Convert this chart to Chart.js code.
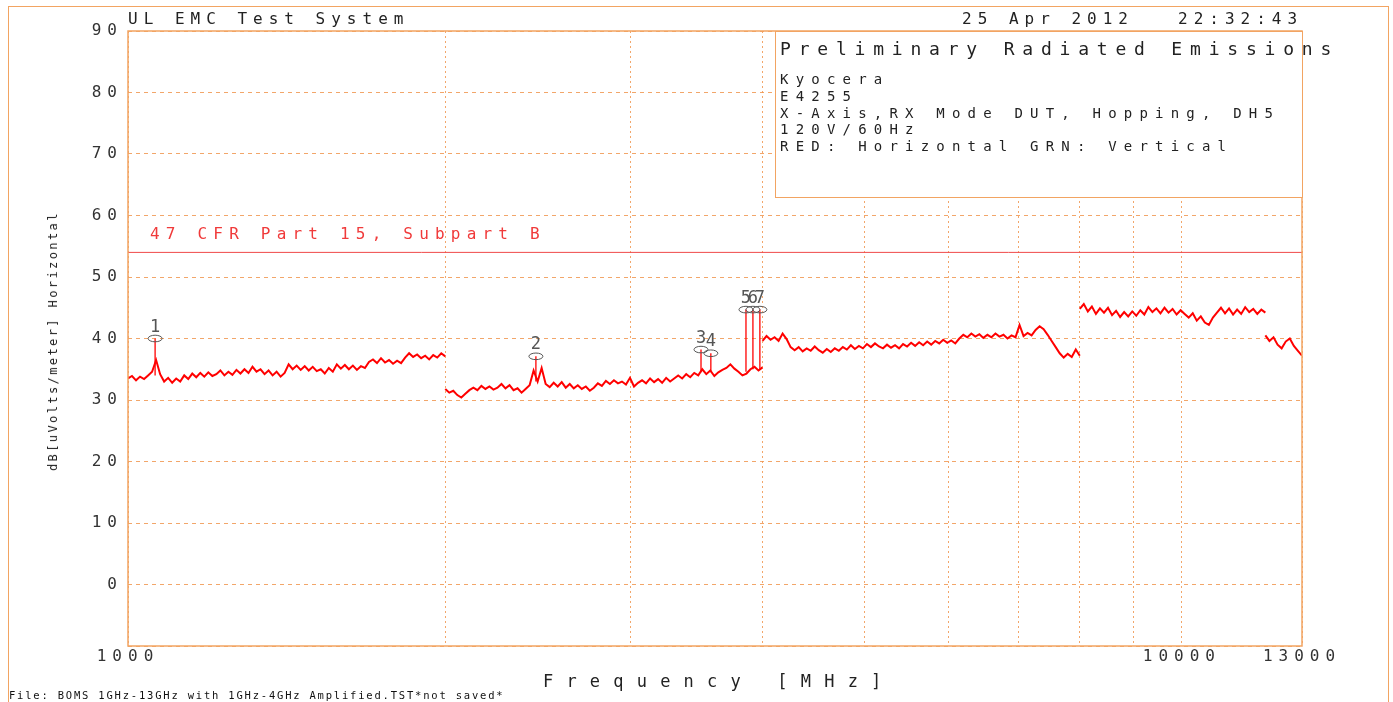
<!DOCTYPE html>
<html>
<head>
<meta charset="utf-8">
<script src="https://cdn.jsdelivr.net/npm/chart.js@4/dist/chart.umd.min.js"></script>
<style>
  body { margin: 0; background: #fff; }
  #wrap { position: relative; width: 1393px; height: 702px; overflow: hidden; }
  canvas { position: absolute; left: 0; top: 0; }
  .t { position: absolute; font-family: "DejaVu Sans Mono", monospace; white-space: pre; line-height: 1; color: #222; }
  #frame { position: absolute; left: 8px; top: 6px; width: 1381px; height: 720px; border: 1px solid #f2a462; box-sizing: border-box; }
  #box { position: absolute; left: 775px; top: 31px; width: 528px; height: 167px; background: #fff; border: 1px solid #f2a462; box-sizing: border-box; }
</style>
</head>
<body>
<div id="wrap">
  <div id="frame"></div>
  <canvas id="emiChart" width="1393" height="702"></canvas>
  <div id="box"></div>

  <div class="t" style="left:128px; top:11px; font-size:16px; letter-spacing:6px;">UL EMC Test System</div>
  <div class="t" style="left:962px; top:11px; font-size:16px; letter-spacing:6px;">25 Apr 2012</div>
  <div class="t" style="left:1178px; top:11px; font-size:16px; letter-spacing:6px;">22:32:43</div>

  <div class="t" style="left:780px; top:40px; font-size:18px; letter-spacing:7.8px;">Preliminary Radiated Emissions</div>
  <div class="t" style="left:780px; top:72px; font-size:14px; letter-spacing:7.2px;">Kyocera</div>
  <div class="t" style="left:780px; top:89px; font-size:14px; letter-spacing:7.2px;">E4255</div>
  <div class="t" style="left:780px; top:106px; font-size:14px; letter-spacing:7.2px;">X-Axis,RX Mode DUT, Hopping, DH5</div>
  <div class="t" style="left:780px; top:122px; font-size:14px; letter-spacing:7.2px;">120V/60Hz</div>
  <div class="t" style="left:780px; top:139px; font-size:14px; letter-spacing:7.2px;">RED: Horizontal GRN: Vertical</div>

  <div class="t" style="left:53px; top:341px; font-size:12px; letter-spacing:2.4px; transform:translate(-50%,-50%) rotate(-90deg);">dB[uVolts/meter] Horizontal</div>
  <div class="t" style="left:543px; top:673px; font-size:17px; letter-spacing:13.2px;">Frequency [MHz]</div>
  <div class="t" style="left:9px; top:690px; font-size:10.5px; letter-spacing:1.8px; color:#111;">File: BOMS 1GHz-13GHz with 1GHz-4GHz Amplified.TST*not saved*</div>
</div>

<script>
// sweep segments (MHz)
const segStart = [1000, 2000, 4000, 8000, 12000];
const segStop  = [2000, 4000, 8000, 12000, 13000];

const seg1Levels = [33.5,33.9,33.2,33.8,33.4,34.0,34.6,36.5,34.2,33.0,33.6,32.8,33.5,33.0,34.0,33.4,34.3,33.7,34.4,33.8,
  34.5,33.9,34.2,34.8,34.0,34.6,34.1,34.9,34.3,35.0,34.4,35.4,34.6,35.0,34.2,34.8,34.0,34.6,33.8,34.4,
  35.8,35.0,35.6,34.9,35.5,34.8,35.4,34.7,35.0,34.3,35.2,34.6,35.8,35.1,35.7,35.0,35.6,34.9,35.5,35.2,
  36.2,36.6,36.0,36.8,36.1,36.5,35.9,36.4,36.0,36.9,37.6,37.0,37.4,36.8,37.2,36.6,37.3,36.9,37.6,37.1];
const seg2Levels = [31.8,31.2,31.5,30.8,30.4,31.0,31.6,32.0,31.6,32.3,31.8,32.2,31.7,32.0,32.6,31.9,32.4,31.6,31.9,31.2,
  31.8,32.4,34.8,33.0,35.2,32.6,32.1,32.8,32.2,32.9,32.0,32.6,31.9,32.4,31.8,32.2,31.5,32.0,32.7,32.3,
  33.1,32.6,33.2,32.7,33.0,32.5,33.6,32.2,32.8,33.2,32.7,33.5,32.9,33.4,32.8,33.6,33.0,33.5,34.0,33.5,
  34.2,33.7,34.4,34.0,35.0,34.2,34.8,33.9,34.5,34.9,35.2,35.8,35.1,34.6,34.0,34.3,35.0,35.4,34.8,35.3];
const seg3Levels = [39.6,40.4,39.8,40.2,39.6,40.8,39.9,38.6,38.1,38.6,37.9,38.4,38.0,38.7,38.1,37.7,38.3,37.8,38.4,38.0,
  38.6,38.2,38.9,38.3,38.8,38.4,39.1,38.6,39.2,38.7,38.4,39.0,38.5,38.9,38.4,39.1,38.7,39.3,38.8,39.4,
  38.9,39.5,39.0,39.6,39.2,39.8,39.3,39.7,39.2,40.0,40.6,40.2,40.8,40.3,40.7,40.1,40.6,40.2,40.8,40.3,
  40.6,40.0,40.5,40.2,42.2,40.4,40.9,40.5,41.4,42.0,41.5,40.6,39.6,38.6,37.6,36.9,37.5,37.0,38.2,37.2];
const seg4Levels = [44.8,45.6,44.4,45.2,44.0,44.9,44.2,45.0,43.8,44.5,43.5,44.3,43.6,44.4,43.7,44.6,43.9,45.1,44.3,44.9,
  44.1,45.0,44.2,44.8,43.9,44.6,44.0,43.4,44.1,42.9,43.6,42.6,42.2,43.4,44.2,45.0,44.1,44.9,43.9,44.7,
  44.0,45.1,44.3,44.8,44.0,44.7,44.2];
const seg5Levels = [40.5,39.6,40.2,39.0,38.4,39.5,40.0,38.8,38.0,37.2];
const segLevels = [seg1Levels, seg2Levels, seg3Levels, seg4Levels, seg5Levels];

// peak markers
const markerLabel = ['1', '2', '3', '4', '5', '6', '7'];
const markerFreq  = [1061, 2438, 3497, 3573, 3858, 3917, 3977];
const markerLevel = [40.0, 37.1, 38.2, 37.6, 44.7, 44.7, 44.7];
const markerBase  = [34.0, 33.0, 34.5, 34.5, 34.6, 35.0, 35.0];

// limit line
const limitName  = '47 CFR Part 15, Subpart B';
const limitFreq  = [1000, 13000];
const limitLevel = [54, 54];

// axes
const xGridValues = [1000, 2000, 3000, 4000, 5000, 6000, 7000, 8000, 9000, 10000, 13000];
const xTickLabels = [1000, 10000, 13000];
const yTickLabels = [0, 10, 20, 30, 40, 50, 60, 70, 80, 90];

const TRACE = '#ff0000';
const ORANGE = '#f2a462';
const GRID = 'rgba(240, 150, 80, 0.85)';
const FONT = '"DejaVu Sans Mono", monospace';

const datasets = [];

segLevels.forEach((levels, s) => {
    const n = levels.length;
    const ratio = segStop[s] / segStart[s];
    datasets.push({
        data: levels.map((v, i) => ({ x: segStart[s] * Math.pow(ratio, i / (n - 1)), y: v })),
        borderColor: TRACE,
        borderWidth: 2
    });
});

markerFreq.forEach((f, i) => {
    datasets.push({
        data: [{ x: f, y: markerBase[i] }, { x: f, y: markerLevel[i] }],
        borderColor: TRACE,
        borderWidth: 1.3
    });
});

datasets.push({
    data: limitFreq.map((f, i) => ({ x: f, y: limitLevel[i] })),
    borderColor: '#f04848',
    borderWidth: 1
});

// frame, limit caption and marker rings drawn on top of the plot
const overlayPlugin = {
    id: 'overlay',
    beforeDraw(chart) {
        chart.ctx.letterSpacing = '6px';
    },
    afterDatasetsDraw(chart) {
        const ctx = chart.ctx;
        const a = chart.chartArea;
        const xs = chart.scales.x;
        const ys = chart.scales.y;

        ctx.save();
        ctx.strokeStyle = ORANGE;
        ctx.lineWidth = 1.5;
        ctx.strokeRect(a.left, a.top, a.right - a.left, a.bottom - a.top);

        ctx.letterSpacing = '6.2px';
        ctx.font = '16px ' + FONT;
        ctx.fillStyle = '#f03a3a';
        ctx.textBaseline = 'alphabetic';
        ctx.textAlign = 'left';
        ctx.fillText(limitName, a.left + 22, ys.getPixelForValue(limitLevel[0]) - 13);

        ctx.strokeStyle = '#555';
        ctx.fillStyle = '#555';
        ctx.lineWidth = 1;
        ctx.letterSpacing = '0px';
        ctx.font = '17px ' + FONT;
        ctx.textAlign = 'center';
        markerFreq.forEach((f, i) => {
            const px = xs.getPixelForValue(f);
            const py = ys.getPixelForValue(markerLevel[i]);
            ctx.beginPath();
            ctx.ellipse(px, py, 7, 3.3, 0, 0, Math.PI * 2);
            ctx.stroke();
            ctx.fillText(markerLabel[i], px, py - 7);
        });
        ctx.restore();
    },
    afterDraw(chart) {
        chart.ctx.letterSpacing = '0px';
    }
};

const ctx = document.getElementById('emiChart');
new Chart(ctx, {
    type: 'line',
    data: { datasets: datasets },
    options: {
        responsive: false,
        animation: false,
        layout: { padding: { left: 0, top: 31, right: 91, bottom: 0 } },
        plugins: { legend: { display: false }, tooltip: { enabled: false } },
        elements: { point: { radius: 0 }, line: { tension: 0 } },
        scales: {
            x: {
                type: 'logarithmic',
                min: 1000,
                max: 13000,
                afterBuildTicks: (s) => { s.ticks = xGridValues.map(v => ({ value: v })); },
                afterFit: (s) => { s.height = 56; },
                ticks: {
                    autoSkip: false, maxRotation: 0, minRotation: 0, padding: 1,
                    color: '#333', font: { family: FONT, size: 16 },
                    callback: (v) => xTickLabels.includes(v) ? String(v) : ''
                },
                grid: { color: GRID, lineWidth: 1, drawTicks: false },
                border: { display: false, dash: [2, 3] }
            },
            y: {
                min: -10,
                max: 90,
                afterFit: (s) => { s.width = 128; },
                ticks: {
                    stepSize: 10, padding: 5,
                    color: '#333', font: { family: FONT, size: 16 },
                    callback: (v) => yTickLabels.includes(v) ? String(v) : ''
                },
                grid: { color: GRID, lineWidth: 1, drawTicks: false },
                border: { display: false, dash: [4, 4] }
            }
        }
    },
    plugins: [overlayPlugin]
});
</script>
</body>
</html>
